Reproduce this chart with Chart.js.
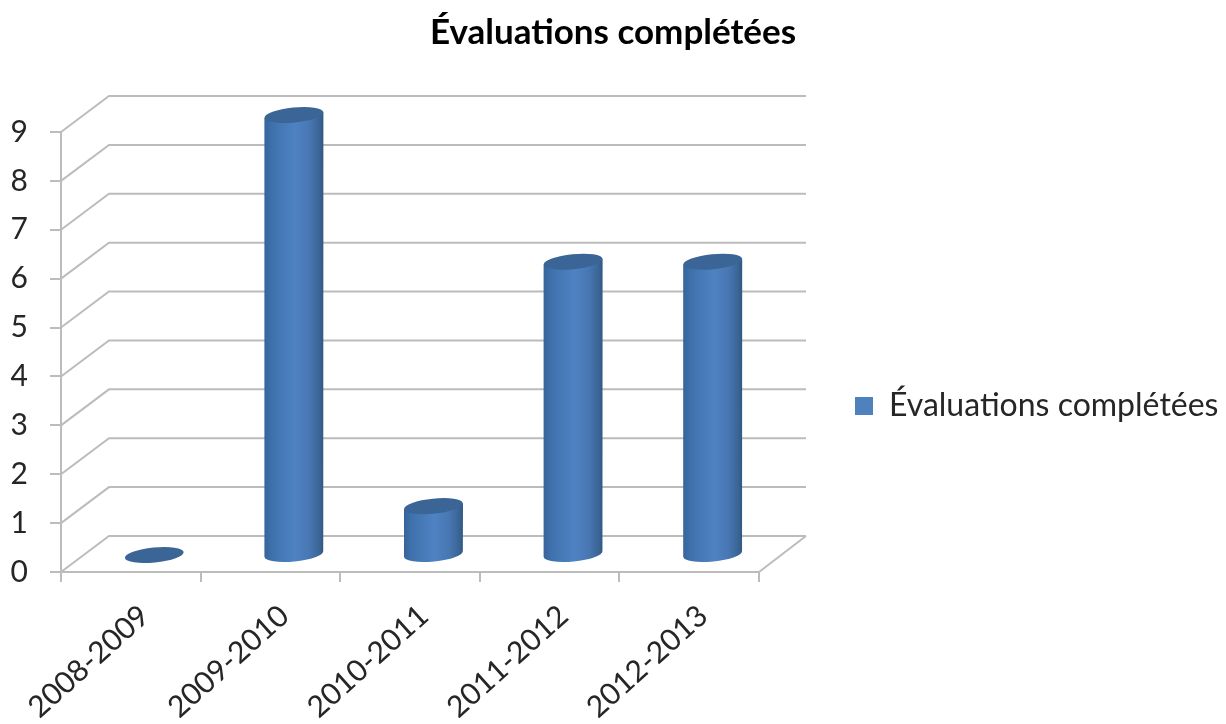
<!DOCTYPE html>
<html lang="fr">
<head>
<meta charset="utf-8">
<title>Évaluations complétées</title>
<script src="https://cdn.jsdelivr.net/npm/chart.js@4"></script>
<style>
    html, body { margin: 0; padding: 0; background: #fff; }
    canvas { display: block; }
</style>
</head>
<body>
<canvas id="chart" width="1226" height="724"></canvas>
<script>
// Chart values
const seriesName = "Évaluations complétées";
const years = ["2008-2009", "2009-2010", "2010-2011", "2011-2012", "2012-2013"];
const completed = [0, 9, 1, 6, 6];

// Fake 3D depth of the floor, the bars stand half way into it
const depthX = 47;
const depthY = 36;
const lineColor = "#bcbcbc";
const textColor = "#262626";
const fontFamily = "Lato, 'Noto Sans', sans-serif";

// Bar element drawn as a cylinder with tilted elliptical caps
class CylinderBar extends Chart.BarElement {
    static id = "cylinderBar";
    static defaults = Chart.BarElement.defaults;
    static defaultRoutes = Chart.BarElement.defaultRoutes;

    draw(ctx) {
        const { x, y, base, width } = this.getProps(["x", "y", "base", "width"], true);
        const cx = x + depthX / 2;
        const top = y - depthY / 2 + 1;
        const bottom = base - depthY / 2 + 1;
        const rx = width / 2;
        const ry = 7.5;
        const tilt = -0.1;
        const lift = rx * Math.sin(tilt);

        ctx.save();
        if (bottom - top > 1) {
            const side = ctx.createLinearGradient(cx - rx, 0, cx + rx, 0);
            side.addColorStop(0, "#37649a");
            side.addColorStop(0.14, "#3f72ad");
            side.addColorStop(0.52, "#4f82c3");
            side.addColorStop(0.76, "#4877b3");
            side.addColorStop(0.93, "#3a6596");
            side.addColorStop(1, "#325882");
            ctx.fillStyle = side;
            ctx.beginPath();
            ctx.moveTo(cx + rx, top + lift);
            ctx.lineTo(cx - rx, top - lift);
            ctx.lineTo(cx - rx, bottom - lift);
            ctx.ellipse(cx, bottom, rx, ry, tilt, Math.PI, 0, true);
            ctx.closePath();
            ctx.fill();
        }
        ctx.fillStyle = "#3a6596";
        ctx.beginPath();
        ctx.ellipse(cx, top, rx, ry, tilt, 0, Math.PI * 2);
        ctx.fill();
        ctx.restore();
    }
}

class CylinderController extends Chart.BarController {
    static id = "cylinder";
    static defaults = { ...Chart.BarController.defaults, dataElementType: "cylinderBar" };
    static overrides = Chart.BarController.overrides;
}

Chart.register(CylinderBar, CylinderController);

// Side wall lines, back wall lines and the right edge of the floor
const wallGrid = {
    id: "wallGrid",
    beforeDatasetsDraw(chart) {
        const ctx = chart.ctx;
        const yScale = chart.scales.y;
        const area = chart.chartArea;
        ctx.save();
        ctx.strokeStyle = lineColor;
        ctx.lineWidth = 2;
        yScale.ticks.forEach(function (tick) {
            const py = yScale.getPixelForValue(tick.value);
            ctx.beginPath();
            ctx.moveTo(area.left, py);
            ctx.lineTo(area.left + depthX + 1, py - depthY);
            ctx.lineTo(area.right + depthX, py - depthY);
            ctx.stroke();
        });
        ctx.beginPath();
        ctx.moveTo(area.right, area.bottom);
        ctx.lineTo(area.right + depthX, area.bottom - depthY);
        ctx.stroke();
        ctx.restore();
    },
    // Title is centred on the whole page, legend sits right of the floor
    afterLayout(chart) {
        const title = chart.titleBlock;
        title.left = 0;
        title.right = chart.width;
        const legend = chart.legend;
        const w = legend.width;
        const h = legend.height;
        legend.left = 845;
        legend.right = legend.left + w;
        legend.top = 380;
        legend.bottom = legend.top + h;
        legend.adjustHitBoxes();
    }
};

new Chart(document.getElementById("chart"), {
    type: "cylinder",
    data: {
        labels: years,
        datasets: [{
            label: seriesName,
            data: completed,
            backgroundColor: "#4f81bd",
            borderWidth: 0,
            barPercentage: 1,
            categoryPercentage: 0.4226,
            clip: false
        }]
    },
    plugins: [wallGrid],
    options: {
        responsive: false,
        animation: false,
        layout: { padding: { left: 0, right: 467, top: 0, bottom: 0 } },
        plugins: {
            tooltip: { enabled: false },
            title: {
                display: true,
                text: seriesName,
                color: "#000",
                font: { family: fontFamily, size: 35, weight: "bold", lineHeight: 1.2 },
                padding: { top: 12, bottom: 78 }
            },
            legend: {
                position: "chartArea",
                align: "start",
                labels: {
                    color: textColor,
                    boxWidth: 18,
                    boxHeight: 18,
                    padding: 10,
                    font: { family: fontFamily, size: 32 }
                }
            }
        },
        scales: {
            x: {
                // rotated labels may run past the plot's left edge, keep the plot where it is
                afterFit(scale) {
                    scale.height = 152;
                    scale.paddingLeft = 0;
                    scale.paddingRight = 0;
                },
                grid: { drawOnChartArea: false, color: lineColor, lineWidth: 2, tickLength: 10 },
                border: { color: lineColor, width: 2 },
                ticks: {
                    color: textColor,
                    font: { family: fontFamily, size: 30 },
                    minRotation: 42,
                    maxRotation: 42,
                    labelOffset: 14,
                    padding: 16
                }
            },
            y: {
                min: 0,
                max: 9,
                afterFit(scale) { scale.width = 61; },
                grid: { drawOnChartArea: false, color: lineColor, lineWidth: 2, tickLength: 11 },
                border: { color: lineColor, width: 2 },
                ticks: {
                    stepSize: 1,
                    color: textColor,
                    font: { family: fontFamily, size: 30 },
                    padding: 22
                }
            }
        }
    }
});
</script>
</body>
</html>
